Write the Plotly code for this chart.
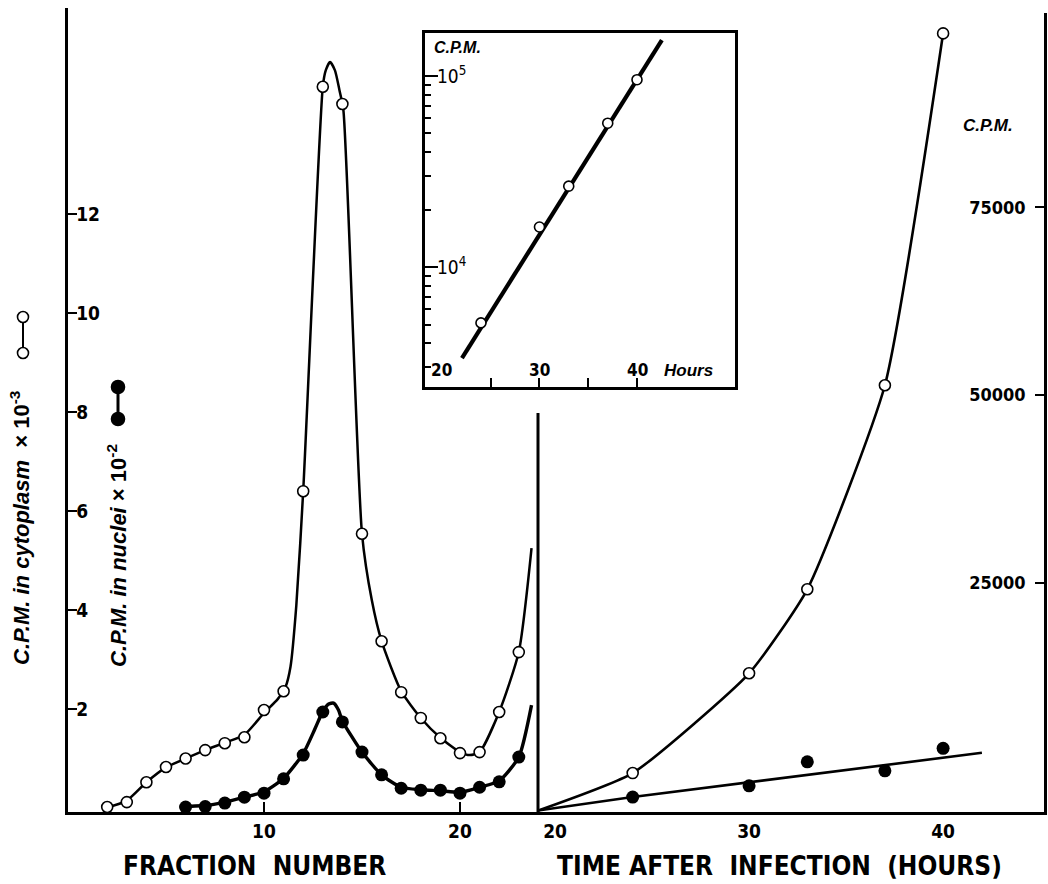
import plotly.graph_objects as go

# ---------------- data ----------------
# Left panel: sucrose gradient fractions
cyt_fraction = [2, 3, 4, 5, 6, 7, 8, 9, 10, 11, 12, 13, 14, 15, 16, 17, 18, 19, 20, 21, 22, 23]
cyt_cpm_e3 = [0.02, 0.12, 0.52, 0.83, 1.0, 1.17, 1.31, 1.43, 1.98, 2.36, 6.4, 14.57,
              14.22, 5.54, 3.37, 2.34, 1.82, 1.41, 1.11, 1.13, 1.94, 3.15]
# hand-drawn curve through the cytoplasm points
cyt_curve_frac = [1.9, 3, 4, 5, 6, 7, 8, 9, 10, 10.7, 11.1, 11.35, 11.65, 12, 13, 13.15,
                  13.37, 13.62, 13.85, 14.05, 15, 15.5, 16, 17, 18, 19, 20, 20.5, 21,
                  22, 23, 23.65]
cyt_curve_val = [0.0, 0.15, 0.52, 0.82, 1.0, 1.17, 1.32, 1.48, 1.92, 2.2, 2.45, 2.85,
                 4.1, 6.4, 14.57, 14.9, 15.07, 14.9, 14.5, 14.1, 5.54, 4.2, 3.37,
                 2.36, 1.82, 1.42, 1.13, 1.07, 1.13, 1.94, 3.15, 5.25]

nuc_fraction = [6, 7, 8, 9, 10, 11, 12, 13, 14, 15, 16, 17, 18, 19, 20, 21, 22, 23]
nuc_cpm_e2 = [0.02, 0.03, 0.1, 0.22, 0.3, 0.59, 1.07, 1.94, 1.74, 1.13, 0.67, 0.4,
              0.36, 0.36, 0.3, 0.42, 0.53, 1.03]
nuc_curve_frac = [5.7, 6, 7, 8, 9, 10, 11, 12, 12.6, 13, 13.3, 13.55, 13.8, 14, 15, 16,
                  17, 18, 19, 20, 21, 22, 23, 23.65]
nuc_curve_val = [0.0, 0.03, 0.05, 0.12, 0.22, 0.33, 0.6, 1.1, 1.6, 1.95, 2.1, 2.12,
                 1.98, 1.76, 1.13, 0.67, 0.42, 0.37, 0.35, 0.32, 0.42, 0.55, 1.03, 2.08]

# Right panel: time after infection (values read against the drawn C.P.M. axis)
hours = [24, 30, 33, 37, 40]
cyt_total_cpm = [-400, 12900, 24100, 51300, 98200]
nuc_total_cpm = [-3600, -2100, 1100, -100, 2900]
cyt_time_curve_h = [19.12, 24, 30, 33, 37, 40]
cyt_time_curve_cpm = [-5400, -400, 12900, 24100, 51300, 98200]
nuc_time_line_h = [19.12, 24, 42]
nuc_time_line_cpm = [-5400, -3600, 2300]

# Inset: log plot
inset_hours = [24, 30, 33, 37, 40]
inset_cpm = [5100, 16200, 26500, 56600, 95600]
inset_line_h = [22.05, 42.55]
inset_line_cpm = [3340, 154000]

left_yticks = [2, 4, 6, 8, 10, 12]
left_xlabels = [10, 20]
left_xminor = [5, 15]
right_xlabels = [20, 30, 40]
right_xmarks = [25, 30, 35, 40]
right_yticks = [25000, 50000, 75000]
right_ytick_text = ["25000", "50000", "75000"]
inset_xlabels = [20, 30, 40]
inset_xmarks = [20, 25, 30, 35, 40]

# ---------------- layout helpers ----------------
W, H = 1048, 884
def px(x):
    return x / W
def py(y):
    return 1 - y / H

COND = "DejaVu Sans Condensed, Liberation Sans Narrow, Roboto Condensed, sans-serif"
ITAL = "Liberation Sans, Arial, DejaVu Sans, sans-serif"
tickfont = dict(family=COND, size=19, color="black", weight="bold")

fig = go.Figure()

open_marker = dict(symbol="circle", size=11, color="white", line=dict(color="black", width=1.6))
closed_marker = dict(symbol="circle", size=13, color="black")

# left panel
fig.add_trace(go.Scatter(x=cyt_curve_frac, y=cyt_curve_val, mode="lines",
                         line=dict(color="black", width=2.5, shape="spline", smoothing=0.6),
                         xaxis="x", yaxis="y", hoverinfo="skip", showlegend=False))
fig.add_trace(go.Scatter(x=nuc_curve_frac, y=nuc_curve_val, mode="lines",
                         line=dict(color="black", width=3.4, shape="spline", smoothing=0.6),
                         xaxis="x", yaxis="y", hoverinfo="skip", showlegend=False))
fig.add_trace(go.Scatter(x=cyt_fraction, y=cyt_cpm_e3, mode="markers", marker=open_marker,
                         xaxis="x", yaxis="y", name="cytoplasm", showlegend=False))
fig.add_trace(go.Scatter(x=nuc_fraction, y=nuc_cpm_e2, mode="markers", marker=closed_marker,
                         xaxis="x", yaxis="y", name="nuclei", showlegend=False))

# right panel
fig.add_trace(go.Scatter(x=cyt_time_curve_h, y=cyt_time_curve_cpm, mode="lines",
                         line=dict(color="black", width=2.6, shape="spline", smoothing=0.5),
                         xaxis="x2", yaxis="y2", hoverinfo="skip", showlegend=False))
fig.add_trace(go.Scatter(x=nuc_time_line_h, y=nuc_time_line_cpm, mode="lines",
                         line=dict(color="black", width=2.6),
                         xaxis="x2", yaxis="y2", hoverinfo="skip", showlegend=False))
fig.add_trace(go.Scatter(x=hours, y=cyt_total_cpm, mode="markers", marker=open_marker,
                         xaxis="x2", yaxis="y2", showlegend=False))
fig.add_trace(go.Scatter(x=hours, y=nuc_total_cpm, mode="markers", marker=closed_marker,
                         xaxis="x2", yaxis="y2", showlegend=False))

# inset
fig.add_trace(go.Scatter(x=inset_line_h, y=inset_line_cpm, mode="lines",
                         line=dict(color="black", width=4.2),
                         xaxis="x3", yaxis="y3", hoverinfo="skip", showlegend=False))
fig.add_trace(go.Scatter(x=inset_hours, y=inset_cpm, mode="markers",
                         marker=dict(symbol="circle", size=10, color="white",
                                     line=dict(color="black", width=1.6)),
                         xaxis="x3", yaxis="y3", showlegend=False))

axis_common = dict(showgrid=False, zeroline=False, showline=True, linecolor="black",
                   tickcolor="black", tickwidth=2, tickfont=tickfont)
mark_only = dict(showgrid=False, zeroline=False, showline=False, showticklabels=False,
                 ticks="inside", tickwidth=2, tickcolor="black")

inset_minor = [v * 10 ** e for e in (3, 4) for v in range(2, 10)] + [2e5]

L_DOM = [px(68), px(538)]
R_DOM = [px(538), px(1044)]
I_DOM = [px(425), px(735)]
L_RANGE = [0, 23.98]
R_RANGE = [19.12, 45.2]
I_RANGE = [18.26, 50.05]

fig.update_layout(
    width=W, height=H, margin=dict(l=0, r=0, t=0, b=0),
    paper_bgcolor="white", plot_bgcolor="white", showlegend=False,
    xaxis=dict(axis_common, domain=L_DOM, range=L_RANGE, anchor="y",
               linewidth=3, ticks="inside", ticklen=10, tickvals=left_xlabels),
    xaxis5=dict(mark_only, overlaying="x", domain=L_DOM, range=L_RANGE, anchor="y",
                ticklen=10, tickvals=left_xminor),
    yaxis=dict(axis_common, domain=[py(812), py(8)], range=[-0.08, 16.16], anchor="x",
               linewidth=3, ticks="inside", ticklen=9, tickvals=left_yticks,
               ticklabelposition="inside"),
    xaxis2=dict(axis_common, domain=R_DOM, range=R_RANGE, anchor="y2",
                linewidth=3, ticks="", tickvals=right_xlabels),
    xaxis4=dict(mark_only, overlaying="x2", domain=R_DOM, range=R_RANGE, anchor="y2",
                ticklen=10, tickvals=right_xmarks),
    yaxis2=dict(axis_common, domain=[py(812), py(13)], range=[-5590, 100920], anchor="x2",
                side="right", linewidth=3, ticks="inside", ticklen=9,
                tickvals=right_yticks, ticktext=right_ytick_text,
                tickfont=dict(family=COND, size=18, color="black", weight="bold"),
                ticklabelposition="inside", ticklabelstandoff=10),
    # inset frame with tick marks
    xaxis3=dict(axis_common, domain=I_DOM, range=I_RANGE, anchor="y3",
                linewidth=2.5, mirror=True, ticks="inside", ticklen=9,
                tickvals=inset_xmarks, showticklabels=False),
    yaxis3=dict(axis_common, domain=[py(387), py(33)], type="log", range=[3.372, 5.225],
                anchor="x3", linewidth=2.5, mirror=True, ticks="inside", ticklen=13,
                tickvals=[1e4, 1e5], ticktext=["10<sup>4</sup>", "10<sup>5</sup>"],
                ticklabelposition="inside",
                tickfont=dict(family=COND, size=19, color="black"),
                minor=dict(ticks="inside", ticklen=6, tickwidth=2, tickcolor="black",
                           tickvals=inset_minor, showgrid=False)),
)

title_font = dict(family=COND, size=26, color="black", weight="bold")
ital_font = dict(family=ITAL, size=22, color="black", weight="bold")
annotations = [
    dict(text="FRACTION  NUMBER", x=px(254), y=py(866), font=title_font),
    dict(text="TIME AFTER  INFECTION  (HOURS)", x=px(779), y=py(866), font=title_font),
    dict(text="<i>C.P.M. in cytoplasm</i>  × 10<sup>-3</sup>", x=px(20), y=py(528),
         textangle=-90, font=ital_font),
    dict(text="<i>C.P.M. in nuclei</i> × 10<sup>-2</sup>", x=px(117), y=py(556),
         textangle=-90, font=ital_font),
    dict(text="<i>C.P.M.</i>", x=px(988), y=py(126),
         font=dict(family=ITAL, size=17, color="black", weight="bold")),
    dict(text="<i>C.P.M.</i>", x=px(457), y=py(47),
         font=dict(family=ITAL, size=16, color="black", weight="bold")),
    dict(text="<i>Hours</i>", x=px(688), y=py(370),
         font=dict(family=ITAL, size=17, color="black", weight="bold")),
]
for a in annotations:
    a.update(xref="paper", yref="paper")
# inset hour labels, placed on the inset's hour axis just above its bottom edge
for h in inset_xlabels:
    annotations.append(dict(text=str(h), x=h, xref="x3", y=py(370), yref="paper",
                            font=dict(family=COND, size=17, color="black", weight="bold")))
for a in annotations:
    a.update(showarrow=False, xanchor="center", yanchor="middle")
fig.update_layout(annotations=annotations)

# decorations: separator line and legend keys
shapes = [
    dict(type="line", xref="paper", yref="paper", x0=px(538), x1=px(538), y0=py(413), y1=py(812),
         line=dict(color="black", width=3)),
    dict(type="line", xref="paper", yref="paper", x0=px(23), x1=px(23), y0=py(317), y1=py(353),
         line=dict(color="black", width=2)),
    dict(type="line", xref="paper", yref="paper", x0=px(118), x1=px(118), y0=py(387), y1=py(419),
         line=dict(color="black", width=3)),
]
for (cx, cy, r, fill) in [(23, 317, 5.5, "white"), (23, 353, 5.5, "white"),
                          (118, 387, 6.5, "black"), (118, 419, 6.5, "black")]:
    shapes.append(dict(type="circle", xref="paper", yref="paper",
                       x0=px(cx - r), x1=px(cx + r), y0=py(cy + r), y1=py(cy - r),
                       fillcolor=fill, line=dict(color="black", width=1.6)))
fig.update_layout(shapes=shapes)

fig.write_html("out.html")
